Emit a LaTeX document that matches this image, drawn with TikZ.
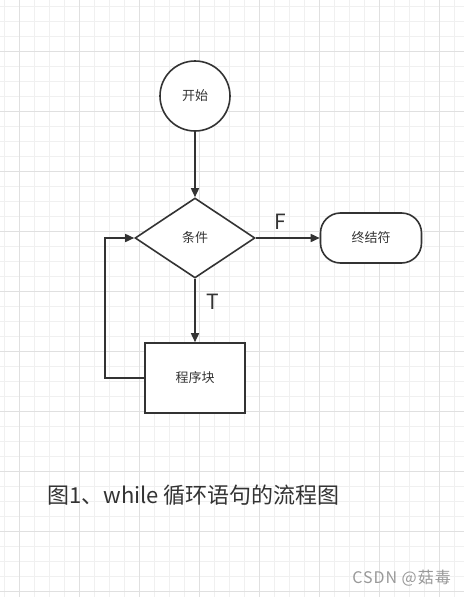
\documentclass[tikz,border=0pt]{standalone}
\usepackage{fontspec}
\setmainfont{Noto Sans CJK SC}
\usetikzlibrary{shapes.geometric,arrows.meta}
\definecolor{ink}{HTML}{333333}
\definecolor{gridminor}{HTML}{F0F0F0}
\definecolor{gridmajor}{HTML}{E0E0E0}
\tikzset{
  shapebox/.style={draw=ink, line width=1.6pt, fill=white, text=ink, font=\fontsize{13}{15}\selectfont, inner sep=0pt},
  flow/.style={draw=ink, line width=1.6pt, -{Triangle[length=9pt,width=8pt]}},
  lbl/.style={text=ink, font=\fontsize{21}{24}\selectfont, inner sep=0pt}
}
\begin{document}
\begin{tikzpicture}[x=1pt,y=-1pt]
\useasboundingbox (0,0) rectangle (464,597);
\fill[white] (0,0) rectangle (464,597);
% grid
\foreach \gx in {4,19,...,464} {\draw[gridminor, line width=0.8pt] (\gx,0) -- (\gx,597);}
\foreach \gy in {6,21,...,597} {\draw[gridminor, line width=0.8pt] (0,\gy) -- (464,\gy);}
\foreach \gx in {19,79,...,464} {\draw[gridmajor, line width=0.8pt] (\gx,0) -- (\gx,597);}
\foreach \gy in {51,111,...,597} {\draw[gridmajor, line width=0.8pt] (0,\gy) -- (464,\gy);}
% nodes
\node[shapebox, circle, minimum size=70pt] (start) at (195,96) {开始};
\node[shapebox, diamond, minimum width=120pt, minimum height=80pt] (cond) at (195,238) {条件};
\node[shapebox, rectangle, rounded corners=20pt, minimum width=101pt, minimum height=50pt] (end) at (371,238) {终结符};
\node[shapebox, rectangle, minimum width=100pt, minimum height=70pt] (prog) at (195,378) {程序块};
\coordinate (lp) at (105,378);
% connectors
\draw[flow] (start) -- (cond);
\draw[flow] (cond) -- (end);
\draw[flow] (cond) -- (prog);
\draw[flow] (prog.west) -- (lp) |- (cond.west);
% labels
\node[lbl] (F) at (280,222) {F};
\node[lbl] (T) at (213,302) {T};
\node[text=ink, font=\fontsize{22}{26}\selectfont, anchor=west, inner sep=0pt] (cap) at (47,495) {图1、while 循环语句的流程图};
\node[text=gray!80, font=\fontsize{16}{18}\selectfont\addfontfeature{LetterSpace=6}, anchor=east, inner sep=0pt] (wm) at (451,578) {CSDN @菇毒};
\end{tikzpicture}
\end{document}
